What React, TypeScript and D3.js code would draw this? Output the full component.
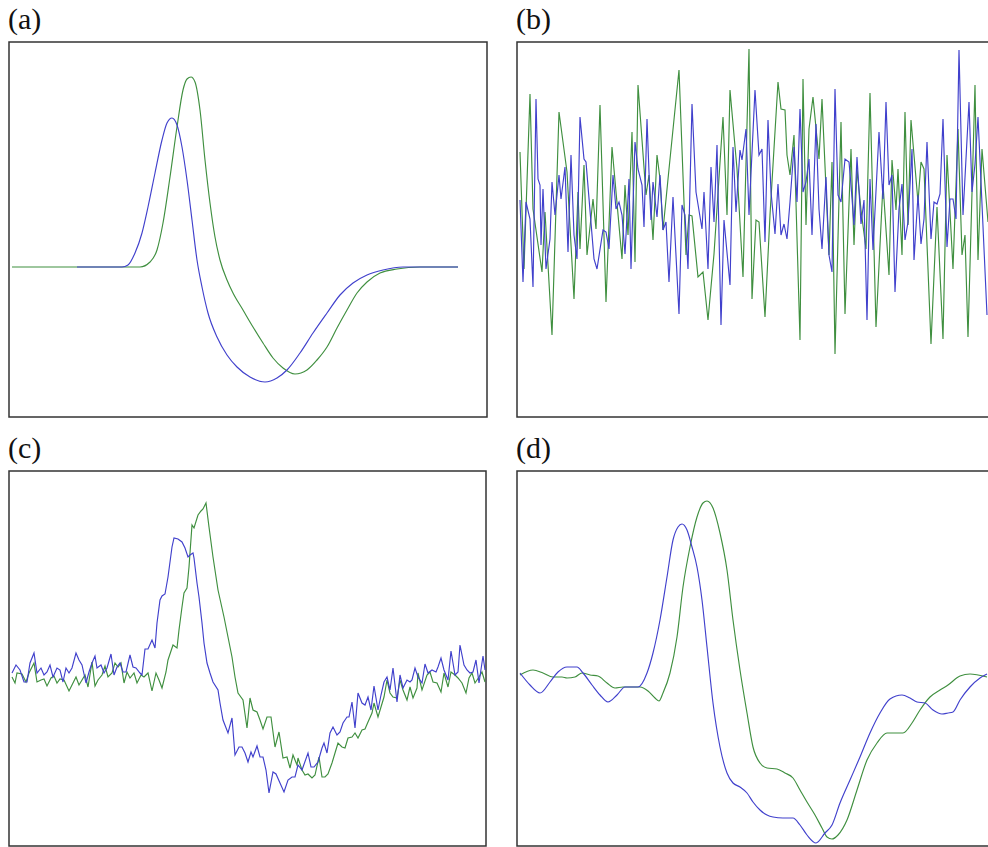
import React from 'react';
import * as d3 from 'd3';

type Pt = [number, number];

// (a) clean waveforms: [sample, amplitude]
const aGreen: Pt[] = [
  [0, 0], [60, 0], [120, 0], [128, 0], [138, 5], [145, 17], [151, 44], [158, 90], [165, 140],
  [171, 177], [175, 188], [179, 190], [183, 185], [188, 157], [193, 107], [198, 64], [203, 30],
  [208, 7], [215, -13], [221, -26], [231, -43], [241, -60], [251, -76], [261, -91], [271, -101],
  [283, -107], [295, -103], [305, -93], [315, -80], [325, -61], [335, -43], [345, -26], [355, -15],
  [368, -6], [385, -2], [408, 0], [446, 0],
];
const aBlue: Pt[] = [
  [65, 0], [110, 0], [116, 2], [123, 14], [130, 34], [136, 60], [143, 94], [150, 127], [155, 144],
  [160, 149], [165, 142], [170, 120], [175, 87], [180, 47], [185, 7], [190, -20], [196, -46],
  [205, -70], [215, -88], [225, -100], [238, -110], [253, -115], [265, -111], [275, -103],
  [288, -86], [301, -66], [315, -46], [328, -28], [341, -16], [355, -8], [371, -3], [391, 0], [446, 0],
];

// (b) noise
const bGreen: Pt[] = [
  [0, 58], [4, -59], [10, 116], [13, 1], [22, -62], [25, -2], [32, -125], [39, 98], [47, 38],
  [54, -89], [58, 18], [60, -39], [64, 45], [67, -45], [73, 11], [76, -19], [80, 105], [86, -92],
  [92, 63], [102, -49], [105, 25], [108, -25], [112, 78], [115, -52], [118, 125], [126, 15],
  [129, 35], [133, -30], [137, 55], [140, 31], [143, -20], [149, 41], [159, 140], [166, -45],
  [169, -5], [172, -6], [178, -67], [183, -62], [188, -110], [194, -44], [203, 93], [207, -5],
  [210, 120], [217, 41], [223, -67], [229, 161], [232, -89], [236, -10], [239, -12], [245, -107],
  [250, -5], [258, 128], [261, 101], [265, 100], [267, 55], [270, 35], [274, 75], [280, -130],
  [283, 131], [286, -15], [289, 81], [293, 113], [299, 51], [302, 111], [309, -45], [312, 48],
  [315, -144], [321, 88], [325, -104], [331, 61], [334, -35], [337, 41], [341, 0], [346, -39],
  [350, 117], [356, -117], [363, 26], [369, -65], [372, 50], [376, 0], [378, 41], [382, -45],
  [385, 98], [388, -15], [391, 90], [398, 8], [401, 48], [404, 41], [411, -134], [417, 3],
  [423, -129], [427, 55], [433, -59], [438, 81], [442, -45], [445, -25], [448, -127], [455, 125],
  [458, -50], [462, 61], [468, -12],
];
const bBlue: Pt[] = [
  [0, 10], [3, -72], [6, 8], [10, -9], [13, -77], [16, 111], [18, 31], [20, 25], [21, -35],
  [23, 21], [26, -59], [30, -29], [32, 28], [35, -5], [39, 35], [41, 11], [45, 43], [48, -42],
  [51, 55], [54, -25], [57, -49], [60, 93], [64, 51], [66, 48], [74, -49], [77, -59], [83, -20],
  [86, -22], [89, -39], [93, 35], [96, 1], [99, 8], [102, -5], [105, -44], [109, 31], [111, -59],
  [115, 68], [118, 41], [122, 25], [124, -17], [127, 91], [130, 11], [131, -10], [133, 28],
  [137, -7], [140, 35], [143, -20], [146, -12], [149, -72], [153, 13], [159, -104], [162, 5],
  [165, -5], [168, -59], [172, 106], [176, 18], [182, -19], [184, 18], [188, -59], [191, 43],
  [194, -12], [197, 65], [201, -115], [204, -10], [210, -75], [213, 63], [216, -2], [220, 60],
  [222, 50], [226, 81], [229, -5], [235, 120], [239, 55], [242, 61], [245, -32], [248, 90],
  [251, 18], [255, -24], [258, 26], [261, -25], [264, -14], [267, -29], [270, 8], [274, 63],
  [277, 8], [280, 101], [283, 18], [286, 28], [289, 51], [292, -25], [296, 86], [299, 1],
  [302, -39], [306, 33], [309, -45], [312, -62], [315, 121], [318, 15], [321, 8], [325, 51],
  [329, 48], [331, 25], [334, -15], [337, 53], [341, -14], [344, 10], [347, -110], [350, 31],
  [353, -40], [359, 78], [363, 11], [366, 108], [369, 25], [372, 35], [375, -82], [379, 1],
  [382, 26], [385, -30], [388, -12], [392, 61], [394, -50], [398, 15], [401, -34], [404, -9],
  [407, 68], [411, -29], [414, 8], [417, 6], [420, 16], [423, 91], [427, -37], [430, 11],
  [433, 11], [436, -9], [439, 160], [443, -5], [449, 108], [452, 18], [455, 46], [458, 93],
  [461, 28], [467, -105],
];

// (c) noisy waveforms
const cGreen: Pt[] = [
  [0, 0], [3, -6], [5, 4], [10, 3], [14, -5], [17, 4], [22, 14], [25, -5], [29, -3], [32, -2],
  [35, -9], [39, -1], [42, 1], [45, -6], [48, -2], [52, -3], [57, -14], [60, -8], [64, 0],
  [67, -8], [70, -3], [73, 2], [76, -10], [80, 15], [83, -9], [86, -3], [90, 2], [93, 11],
  [96, 0], [100, 4], [103, 14], [106, 10], [109, 14], [112, -6], [115, 5], [118, -1], [122, 4],
  [125, -6], [129, 2], [132, 0], [136, 4], [140, -14], [144, 4], [147, -3], [150, -11], [154, 5],
  [156, 17], [161, 32], [165, 29], [167, 47], [170, 70], [172, 84], [175, 89], [177, 110],
  [180, 152], [182, 149], [186, 162], [189, 166], [191, 168], [194, 174], [197, 150], [201, 120],
  [206, 87], [212, 60], [216, 40], [220, 20], [223, 0], [226, -16], [231, -23], [235, -51],
  [238, -21], [241, -33], [245, -35], [248, -43], [251, -52], [255, -40], [259, -40], [263, -70],
  [267, -55], [271, -81], [275, -80], [278, -91], [281, -78], [285, -88], [286, -81], [290, -93],
  [293, -98], [296, -97], [300, -101], [303, -98], [307, -80], [310, -100], [313, -100],
  [316, -97], [320, -86], [323, -76], [326, -66], [330, -70], [333, -71], [336, -61], [340, -60],
  [343, -56], [346, -61], [350, -53], [353, -52], [356, -45], [360, -36], [362, -26], [366, -40],
  [369, -30], [372, -20], [375, -3], [378, -16], [381, -20], [385, -21], [388, -3], [391, -13],
  [395, -23], [398, -10], [401, -21], [405, -11], [406, 4], [410, -13], [415, 2], [418, 5],
  [421, -5], [425, -6], [429, -15], [432, 4], [436, -10], [439, 5], [443, 2], [446, -1],
  [450, -6], [454, -16], [457, -1], [460, 4], [463, -6], [467, 0], [470, 5], [473, -5],
];
const cBlue: Pt[] = [
  [0, 4], [4, 12], [8, 7], [12, -5], [15, -5], [18, 14], [22, 24], [25, 4], [29, 9], [32, 2],
  [35, 5], [38, 12], [41, 0], [45, 9], [48, 7], [51, -5], [54, 9], [57, 4], [60, 9], [64, 24],
  [67, 17], [70, 12], [74, -6], [77, 5], [80, 14], [83, 21], [85, 9], [89, 12], [92, 4], [95, 9],
  [99, 23], [102, 2], [105, 10], [108, 14], [111, 5], [114, 5], [118, 22], [121, 10], [124, 9],
  [128, 4], [130, 2], [133, 28], [136, 28], [140, 37], [143, 29], [145, 54], [148, 77], [150, 81],
  [153, 83], [156, 100], [160, 130], [162, 139], [166, 138], [170, 135], [173, 129], [176, 120],
  [178, 122], [181, 124], [182, 119], [185, 94], [187, 80], [190, 54], [192, 34], [195, 14],
  [198, 4], [201, -5], [206, -13], [208, -26], [211, -43], [216, -56], [220, -41], [223, -78],
  [227, -70], [230, -70], [233, -76], [236, -85], [239, -75], [241, -80], [245, -69], [248, -80],
  [251, -80], [254, -93], [257, -116], [261, -95], [264, -97], [268, -106], [272, -115],
  [276, -103], [280, -100], [283, -100], [286, -88], [290, -93], [296, -76], [299, -90],
  [302, -90], [306, -85], [310, -71], [312, -66], [315, -76], [318, -56], [321, -50], [325, -58],
  [328, -55], [331, -46], [335, -40], [337, -40], [340, -25], [343, -51], [346, -16], [350, -26],
  [353, -28], [356, -20], [359, -33], [362, -9], [366, -33], [369, -18], [372, -5], [375, 0],
  [378, -13], [381, 9], [385, -25], [388, 2], [391, -11], [395, -3], [398, -5], [400, -3],
  [403, 9], [406, 0], [410, -6], [413, 13], [416, 4], [420, 7], [424, 5], [426, 10], [429, 19],
  [432, 7], [436, -3], [439, 26], [443, 2], [446, 5], [448, 32], [452, 12], [455, 7], [458, 4],
  [461, 5], [464, 17], [467, -6], [471, 21], [473, 7],
];

// (d) denoised waveforms
const dGreen: Pt[] = [
  [0, 7], [13, 12], [23, 9], [33, 5], [42, 5], [47, 4], [55, 5], [62, 9], [70, 7], [78, 6],
  [87, -1], [95, -6], [103, -5], [113, -5], [120, -5], [128, -9], [135, -16], [139, -19],
  [143, -11], [150, 9], [157, 45], [163, 95], [170, 135], [177, 165], [183, 179], [187, 181],
  [193, 174], [200, 149], [207, 112], [213, 62], [220, 12], [227, -31], [233, -65], [240, -81],
  [247, -86], [257, -87], [265, -91], [273, -96], [280, -108], [287, -120], [295, -133],
  [302, -146], [307, -155], [312, -157], [318, -153], [327, -138], [337, -108], [347, -78],
  [357, -61], [367, -51], [375, -51], [383, -51], [392, -41], [400, -28], [410, -15], [420, -8],
  [428, -3], [440, 6], [450, 8], [458, 7], [467, 5],
];
const dBlue: Pt[] = [
  [0, 9], [10, -3], [20, -11], [30, 0], [38, 10], [47, 15], [57, 15], [63, 9], [72, -3],
  [80, -13], [88, -20], [97, -13], [105, -5], [113, -5], [118, -5], [127, 9], [133, 29],
  [140, 62], [147, 105], [153, 142], [158, 155], [162, 158], [167, 152], [172, 135], [177, 115],
  [182, 82], [187, 35], [193, -21], [200, -65], [207, -91], [213, -101], [220, -105], [227, -111],
  [233, -120], [240, -128], [247, -133], [253, -135], [263, -136], [273, -136], [280, -143],
  [287, -153], [296, -161], [305, -151], [312, -143], [320, -121], [330, -98], [340, -75],
  [350, -51], [360, -31], [370, -17], [382, -13], [390, -16], [397, -20], [405, -21], [413, -28],
  [422, -32], [428, -31], [433, -30], [440, -18], [450, -5], [460, 4], [467, 8],
];

const labels = ['(a)', '(b)', '(c)', '(d)'];

const BLUE = '#4040cc';
const GREEN = '#3f8f3f';

const panels = [
  { label: labels[0], box: [9, 42, 487, 417], xr: [12, 458], xd: [0, 446], yd: [-150, 225], green: aGreen, blue: aBlue, smooth: true },
  { label: labels[1], box: [517, 42, 995, 417], xr: [520, 995], xd: [0, 475], yd: [-207, 168], green: bGreen, blue: bBlue, smooth: false },
  { label: labels[2], box: [9, 471, 486, 846], xr: [12, 485], xd: [0, 473], yd: [-169, 206], green: cGreen, blue: cBlue, smooth: false },
  { label: labels[3], box: [517, 471, 995, 846], xr: [520, 995], xd: [0, 475], yd: [-164, 211], green: dGreen, blue: dBlue, smooth: true },
];

const Panel = ({ p }: { p: typeof panels[number] }) => {
  const [x0, y0, x1, y1] = p.box;
  const x = d3.scaleLinear().domain(p.xd).range(p.xr);
  const y = d3.scaleLinear().domain(p.yd).range([y1, y0]);
  const line = d3.line<Pt>()
    .x(d => x(d[0]))
    .y(d => y(d[1]))
    .curve(p.smooth ? d3.curveMonotoneX : d3.curveLinear);

  return (
    <g>
      <text x={x0 - 1} y={y0 - 13} fontFamily="Liberation Serif, Times New Roman, serif" fontSize={30} fill="#111">
        {p.label}
      </text>
      <rect x={x0} y={y0} width={x1 - x0} height={y1 - y0} fill="none" stroke="#333" strokeWidth={1.5} />
      <path d={line(p.green) || ''} fill="none" stroke={GREEN} strokeWidth={1.15} />
      <path d={line(p.blue) || ''} fill="none" stroke={BLUE} strokeWidth={1.15} />
    </g>
  );
};

export default function App() {
  return (
    <div style={{ position: 'absolute', left: 0, top: 0 }}>
      <svg width={988} height={847} style={{ display: 'block', background: '#fff' }}>
        {panels.map(p => <Panel key={p.label} p={p} />)}
      </svg>
    </div>
  );
}
